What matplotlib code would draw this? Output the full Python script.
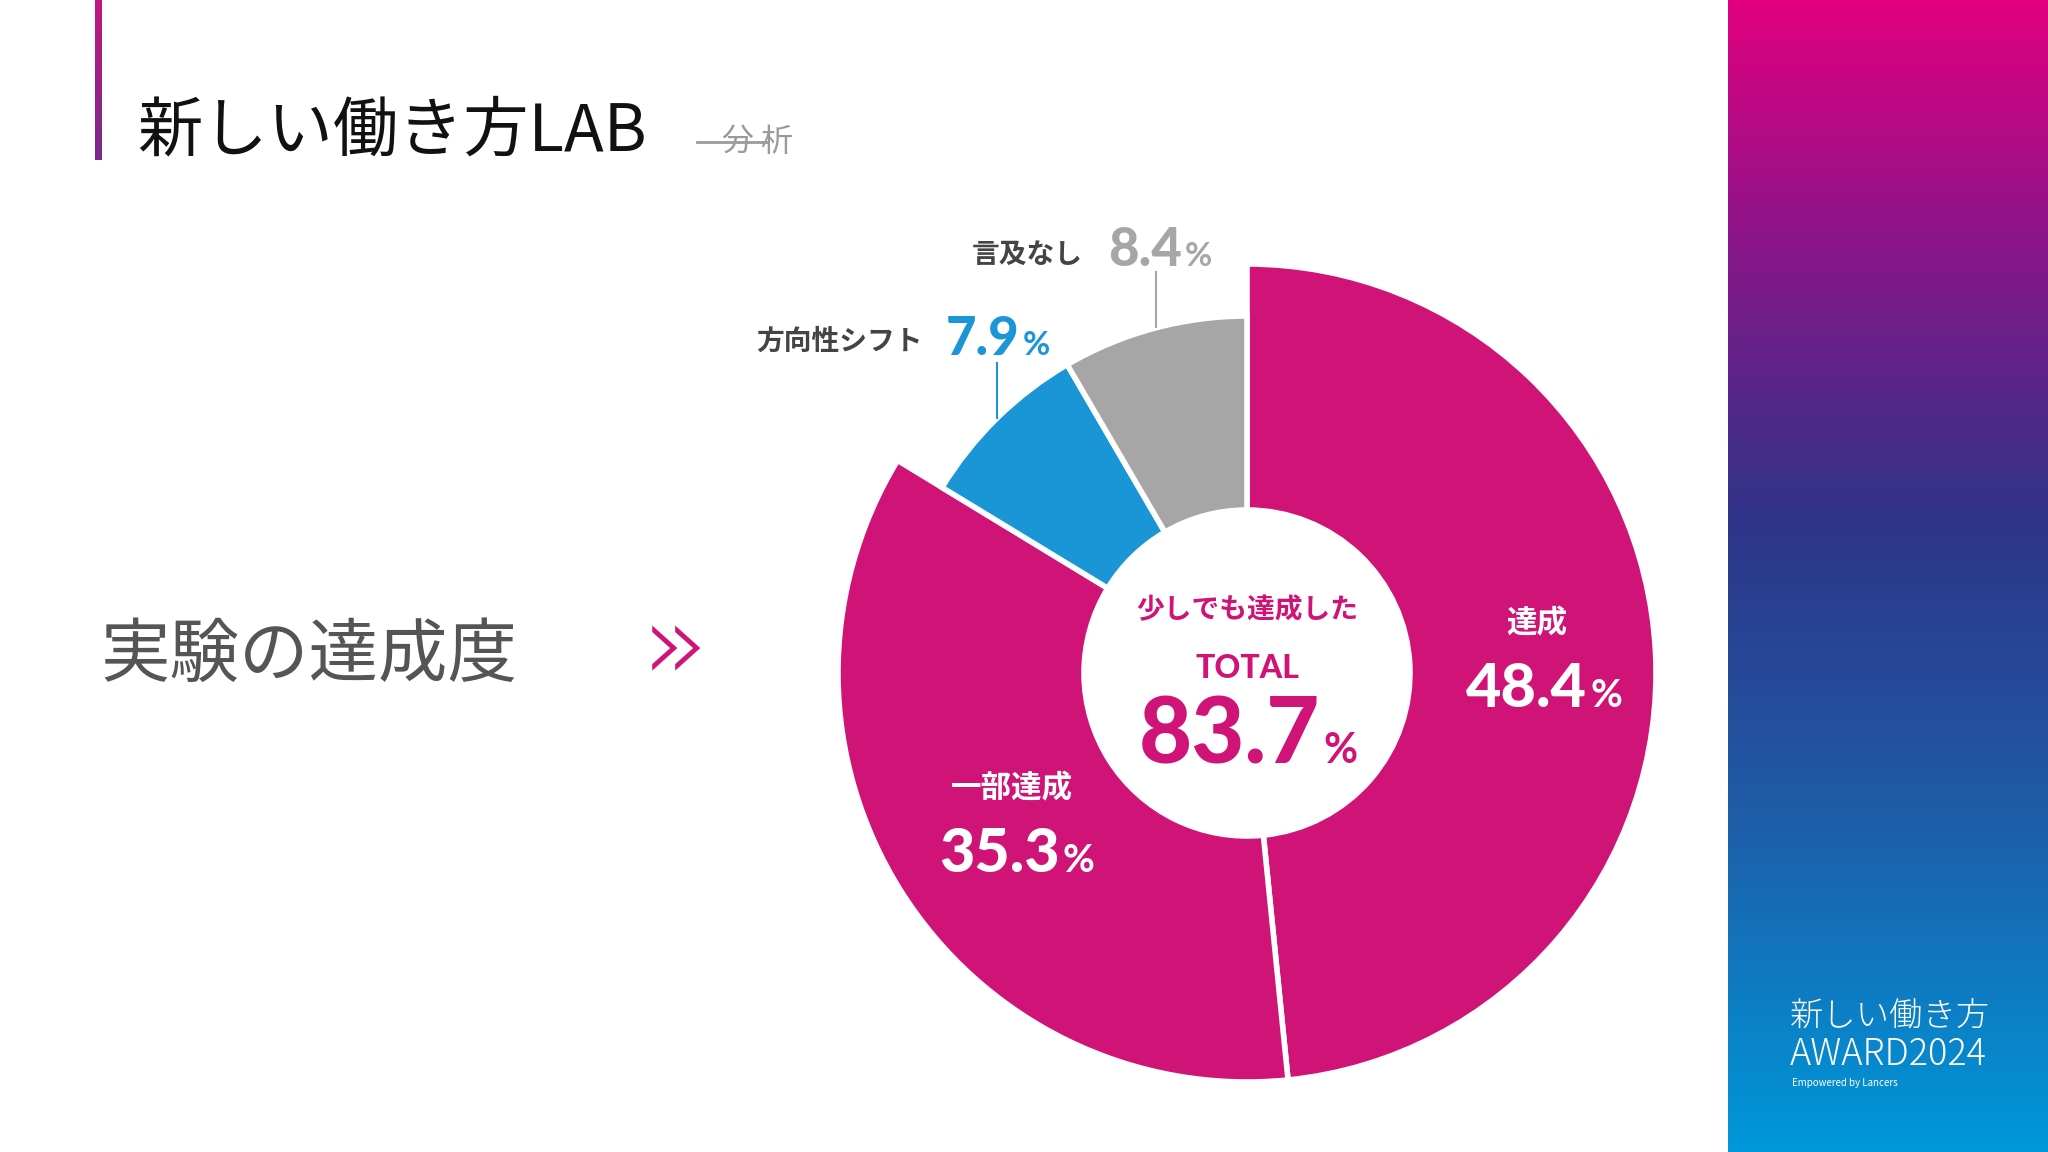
import numpy as np
import matplotlib
matplotlib.use("Agg")
import matplotlib.pyplot as plt
from matplotlib.patches import Wedge
from matplotlib.colors import LinearSegmentedColormap

plt.rcParams['font.family'] = ['Noto Sans CJK JP', 'DejaVu Sans']

categories = ['達成', '一部達成', '方向性シフト', '言及なし']
values = [48.4, 35.3, 7.9, 8.4]
total_label = '83.7'
colors = ['#d01477', '#d01477', '#1a96d6', '#a6a6a6']
radii = [409, 409, 357, 357]

W, H = 2048, 1152
fig = plt.figure(figsize=(W/100, H/100), dpi=100)
ax = fig.add_axes([0, 0, 1, 1])
ax.set_xlim(0, W); ax.set_ylim(H, 0); ax.axis('off')

cmap = LinearSegmentedColormap.from_list('g', [(0, '#e2007f'), (0.22, '#86168a'), (0.45, '#2e3488'),
                                              (0.7, '#1f5ba6'), (1, '#0098da')])
grad = np.linspace(0, 1, 256).reshape(-1, 1)
ax.imshow(grad, cmap=cmap, extent=[1728, W, H, 0], aspect='auto', zorder=0)
cm2 = LinearSegmentedColormap.from_list('a', ['#c0187e', '#7a2a8c'])
ax.imshow(grad, cmap=cm2, extent=[95, 102, 160, 0], aspect='auto', zorder=0)
ax.set_xlim(0, W); ax.set_ylim(H, 0)

ax.text(137, 132, '新しい働き方LAB', fontsize=47, color='#111', va='center', ha='left')
ax.text(722, 142, '分 析', fontsize=23, color='#9a9a9a', va='center', ha='left')
ax.plot([697, 768], [142, 142], color='#9a9a9a', lw=2)

ax.text(100, 656, '実験の達成度', fontsize=50, color='#555555', va='center', ha='left')
ax.text(675, 650, '»', fontsize=78, color='#d01477', va='center', ha='center', fontweight='light',
        family=['DejaVu Sans'])

cx, cy, rin = 1247, 673, 163
start = 90.0
for v, c, r in zip(values, colors, radii):
    ang = v / 100 * 360
    w = Wedge((cx, cy), r, -start, -start + ang, width=r - rin, facecolor=c,
              edgecolor='white', lw=4, zorder=2)
    ax.add_patch(w)
    start -= ang

def pct(x, y, num, col, size, psize):
    ax.text(x, y, num, fontsize=size, color=col, fontweight='black', ha='right', va='baseline',
            family=['Lato', 'DejaVu Sans'], zorder=3)
    ax.text(x + 3, y, '%', fontsize=psize, color=col, fontweight='bold', ha='left', va='baseline',
            family=['Lato', 'DejaVu Sans'], zorder=3)

ax.text(1537, 623, categories[0], fontsize=22, color='white', fontweight='bold', ha='center', va='center', zorder=3)
pct(1587, 707, '48.4', 'white', 44, 28)
ax.text(1012, 788, categories[1], fontsize=22, color='white', fontweight='bold', ha='center', va='center', zorder=3)
pct(1060, 872, '35.3', 'white', 44, 28)

ax.text(923, 342, categories[2], fontsize=20, color='#444', fontweight='bold', ha='right', va='center')
pct(1020, 355, '7.9', '#1a96d6', 38, 24)
ax.plot([997, 997], [363, 418], color='#1a96d6', lw=1.5)
ax.text(1083, 255, categories[3], fontsize=20, color='#444', fontweight='bold', ha='right', va='center')
pct(1182, 266, '8.4', '#a6a6a6', 38, 24)
ax.plot([1156, 1156], [272, 327], color='#a6a6a6', lw=1.5)

ax.text(1247, 610, '少しでも達成した', fontsize=20, color='#d01477', fontweight='bold', ha='center', va='center', zorder=3)
ax.text(1247, 668, 'TOTAL', fontsize=23, color='#d01477', fontweight='black', ha='center', va='center',
        family=['Lato', 'DejaVu Sans'], zorder=3)
pct(1320, 763, total_label, '#d01477', 66, 30)

ax.text(1790, 1016, '新しい働き方', fontsize=24, color='white', ha='left', va='center', fontweight='light')
ax.text(1790, 1055, 'AWARD2024', fontsize=26, color='white', ha='left', va='center', fontweight='light')
ax.text(1792, 1083, 'Empowered by Lancers', fontsize=7, color='white', ha='left', va='center')

fig.savefig('out.png', dpi=100)
